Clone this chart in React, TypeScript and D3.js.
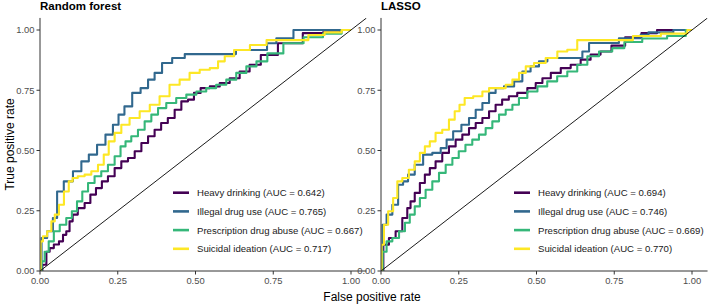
import React from "react";
import * as d3 from "d3";

type Pt = [number, number];

const seriesNames = ["Heavy drinking", "Illegal drug use", "Prescription drug abuse", "Suicidal ideation"];
const seriesColors = ["#440154", "#31688E", "#35B779", "#FDE725"];
const panelTitles = ["Random forest", "LASSO"];
const rfAUC = ["0.642", "0.765", "0.667", "0.717"];
const lassoAUC = ["0.694", "0.746", "0.669", "0.770"];
const tickValues = [0, 0.25, 0.5, 0.75, 1];

const rfHeavy: Pt[] = [
  [0, 0], [0.015, 0.026], [0.026, 0.08], [0.036, 0.095], [0.053, 0.11], [0.069, 0.123], [0.079, 0.15],
  [0.09, 0.165], [0.1, 0.206], [0.11, 0.234], [0.133, 0.261], [0.154, 0.282], [0.17, 0.317], [0.19, 0.344],
  [0.208, 0.372], [0.229, 0.393], [0.251, 0.427], [0.272, 0.455], [0.294, 0.469], [0.315, 0.497],
  [0.337, 0.531], [0.358, 0.559], [0.379, 0.586], [0.4, 0.614], [0.422, 0.635], [0.444, 0.669],
  [0.465, 0.704], [0.487, 0.711], [0.503, 0.739], [0.53, 0.759], [0.562, 0.766], [0.594, 0.78],
  [0.626, 0.8], [0.658, 0.828], [0.69, 0.856], [0.73, 0.896], [0.8, 0.945], [0.89, 0.987], [0.93, 0.99], [1, 1],
];
const rfIllegal: Pt[] = [
  [0, 0], [0.01, 0.137], [0.036, 0.165], [0.047, 0.22], [0.063, 0.33], [0.09, 0.372], [0.122, 0.414],
  [0.144, 0.455], [0.17, 0.483], [0.197, 0.524], [0.224, 0.566], [0.245, 0.607], [0.26, 0.649],
  [0.283, 0.683], [0.31, 0.739], [0.337, 0.759], [0.358, 0.794], [0.379, 0.822], [0.406, 0.863],
  [0.444, 0.884], [0.487, 0.9], [0.62, 0.9], [0.64, 0.917], [0.73, 0.917], [0.73, 0.945], [0.79, 0.966],
  [0.84, 1.0], [1, 1],
];
const rfPrescription: Pt[] = [
  [0, 0], [0.01, 0.04], [0.02, 0.08], [0.036, 0.123], [0.053, 0.165], [0.074, 0.192], [0.095, 0.22],
  [0.11, 0.248], [0.128, 0.289], [0.144, 0.33], [0.165, 0.365], [0.186, 0.393], [0.208, 0.414],
  [0.229, 0.441], [0.251, 0.476], [0.267, 0.517], [0.283, 0.538], [0.304, 0.559], [0.326, 0.586],
  [0.347, 0.621], [0.369, 0.649], [0.39, 0.676], [0.422, 0.697], [0.454, 0.718], [0.487, 0.732],
  [0.519, 0.745], [0.55, 0.759], [0.583, 0.773], [0.615, 0.794], [0.647, 0.822], [0.68, 0.849],
  [0.712, 0.87], [0.75, 0.903], [0.815, 0.945], [0.88, 0.97], [0.94, 0.985], [1, 1],
];
const rfSuicidal: Pt[] = [
  [0, 0], [0.004, 0.123], [0.015, 0.144], [0.031, 0.165], [0.042, 0.206], [0.053, 0.234], [0.069, 0.275],
  [0.085, 0.33], [0.1, 0.372], [0.11, 0.386], [0.133, 0.393], [0.154, 0.4], [0.176, 0.414], [0.197, 0.441],
  [0.213, 0.483], [0.229, 0.538], [0.251, 0.573], [0.272, 0.607], [0.304, 0.635], [0.337, 0.663],
  [0.369, 0.69], [0.4, 0.725], [0.433, 0.773], [0.465, 0.794], [0.497, 0.822], [0.53, 0.835],
  [0.562, 0.842], [0.583, 0.87], [0.605, 0.891], [0.643, 0.917], [0.707, 0.938], [0.75, 0.958],
  [0.836, 0.958], [0.89, 0.979], [0.94, 0.99], [1, 1],
];

const lassoHeavy: Pt[] = [
  [0, 0], [0.015, 0.109], [0.036, 0.137], [0.058, 0.165], [0.079, 0.22], [0.09, 0.261], [0.1, 0.289],
  [0.117, 0.324], [0.133, 0.365], [0.149, 0.4], [0.165, 0.427], [0.186, 0.455], [0.208, 0.49],
  [0.229, 0.517], [0.251, 0.545], [0.272, 0.566], [0.294, 0.593], [0.315, 0.614], [0.337, 0.635],
  [0.358, 0.663], [0.379, 0.69], [0.4, 0.711], [0.422, 0.725], [0.454, 0.739], [0.487, 0.759],
  [0.508, 0.78], [0.53, 0.8], [0.562, 0.822], [0.594, 0.842], [0.626, 0.856], [0.658, 0.877],
  [0.69, 0.898], [0.722, 0.911], [0.76, 0.935], [0.81, 0.97], [0.865, 0.987], [0.91, 1.0], [1, 1],
];
const lassoIllegal: Pt[] = [
  [0, 0], [0.01, 0.192], [0.026, 0.234], [0.047, 0.275], [0.063, 0.358], [0.079, 0.372], [0.095, 0.4],
  [0.122, 0.441], [0.149, 0.483], [0.181, 0.49], [0.203, 0.51], [0.219, 0.545], [0.245, 0.58],
  [0.272, 0.607], [0.294, 0.635], [0.315, 0.669], [0.337, 0.697], [0.358, 0.739], [0.379, 0.759],
  [0.412, 0.766], [0.444, 0.787], [0.465, 0.828], [0.497, 0.849], [0.519, 0.87], [0.551, 0.884],
  [0.637, 0.884], [0.658, 0.911], [0.68, 0.946], [0.76, 0.946], [0.77, 0.966], [0.83, 0.966],
  [0.84, 0.98], [0.88, 0.99], [1, 1],
];
const lassoPrescription: Pt[] = [
  [0, 0], [0.01, 0.08], [0.026, 0.123], [0.047, 0.137], [0.069, 0.165], [0.085, 0.2], [0.1, 0.234],
  [0.117, 0.268], [0.133, 0.303], [0.154, 0.337], [0.176, 0.372], [0.197, 0.407], [0.219, 0.441],
  [0.24, 0.469], [0.26, 0.497], [0.283, 0.524], [0.304, 0.545], [0.326, 0.566], [0.347, 0.593],
  [0.369, 0.621], [0.39, 0.649], [0.412, 0.669], [0.433, 0.69], [0.454, 0.718], [0.487, 0.745],
  [0.519, 0.766], [0.55, 0.787], [0.583, 0.808], [0.615, 0.828], [0.647, 0.856], [0.68, 0.891],
  [0.722, 0.911], [0.765, 0.925], [0.8, 0.95], [0.88, 0.965], [0.96, 0.975], [1, 1],
];
const lassoSuicidal: Pt[] = [
  [0, 0], [0.004, 0.109], [0.015, 0.192], [0.031, 0.248], [0.047, 0.303], [0.058, 0.372], [0.079, 0.386],
  [0.1, 0.42], [0.117, 0.455], [0.133, 0.49], [0.149, 0.517], [0.165, 0.538], [0.186, 0.573],
  [0.208, 0.586], [0.229, 0.628], [0.245, 0.663], [0.26, 0.69], [0.278, 0.718], [0.315, 0.725],
  [0.337, 0.745], [0.358, 0.759], [0.39, 0.759], [0.412, 0.773], [0.433, 0.794], [0.455, 0.822],
  [0.476, 0.849], [0.508, 0.863], [0.551, 0.884], [0.583, 0.911], [0.615, 0.918], [0.647, 0.958],
  [0.79, 0.958], [0.83, 0.975], [0.97, 0.985], [1, 1],
];

const rfSeries = [rfHeavy, rfIllegal, rfPrescription, rfSuicidal];
const lassoSeries = [lassoHeavy, lassoIllegal, lassoPrescription, lassoSuicidal];

const FONT = "'Liberation Sans', Arial, Helvetica, sans-serif";
const UNIT_W = 311;
const UNIT_H = 241;
const Y0 = 271;
const EXP = 1.05;

function Panel({ x0, title, series, aucs, id }: { x0: number; title: string; series: Pt[][]; aucs: string[]; id: string }) {
  const x = d3.scaleLinear().domain([0, EXP]).range([x0, x0 + UNIT_W * EXP]);
  const y = d3.scaleLinear().domain([0, EXP]).range([Y0, Y0 - UNIT_H * EXP]);
  const line = d3
    .line<Pt>()
    .x((d) => x(d[0]))
    .y((d) => y(d[1]))
    .curve(d3.curveStep);
  const fmt = d3.format(".2f");
  const [xl, xr] = x.range();
  const [yb, yt] = y.range();
  return (
    <g>
      <defs>
        <clipPath id={id}>
          <rect x={xl} y={yt} width={xr - xl} height={yb - yt} />
        </clipPath>
      </defs>
      <text x={xl} y={10} fontFamily={FONT} fontWeight="bold" fontSize={11.5} fill="#000">
        {title}
      </text>
      <g clipPath={`url(#${id})`}>
        {series.map((s, i) => (
          <path key={i} d={line(s) || ""} fill="none" stroke={seriesColors[i]} strokeWidth={2.1} strokeLinejoin="round" />
        ))}
        <line x1={x(0)} y1={y(0)} x2={x(EXP)} y2={y(EXP)} stroke="#000" strokeWidth={0.9} />
      </g>
      <line x1={xl} y1={yb} x2={xr} y2={yb} stroke="#333" strokeWidth={1} />
      <line x1={xl} y1={yb} x2={xl} y2={yt} stroke="#333" strokeWidth={1} />
      {tickValues.map((t) => (
        <g key={"x" + t}>
          <line x1={x(t)} x2={x(t)} y1={yb} y2={yb + 3.5} stroke="#333" strokeWidth={1} />
          <text x={x(t)} y={yb + 12.5} textAnchor="middle" fontFamily={FONT} fontSize={9.4} fill="#4D4D4D">
            {fmt(t)}
          </text>
        </g>
      ))}
      {tickValues.map((t) => (
        <g key={"y" + t}>
          <line x1={xl - 3.5} x2={xl} y1={y(t)} y2={y(t)} stroke="#333" strokeWidth={1} />
          <text x={xl - 5.5} y={y(t) + 3.3} textAnchor="end" fontFamily={FONT} fontSize={9.4} fill="#4D4D4D">
            {fmt(t)}
          </text>
        </g>
      ))}
      {seriesNames.map((n, i) => {
        const ly = 192.7 + i * 18.7;
        return (
          <g key={"l" + i}>
            <line x1={xl + 133} x2={xl + 149} y1={ly} y2={ly} stroke={seriesColors[i]} strokeWidth={2.6} />
            <text x={xl + 157} y={ly + 3.4} fontFamily={FONT} fontSize={9.6} fill="#1a1a1a">
              {`${n} (AUC = ${aucs[i]})`}
            </text>
          </g>
        );
      })}
    </g>
  );
}

export default function App() {
  return (
    <svg
      width={708}
      height={306}
      style={{ position: "absolute", left: 0, top: 0, background: "#fff" }}
    >
      <rect x={0} y={0} width={708} height={306} fill="#fff" />
      <Panel x0={40} title={panelTitles[0]} series={rfSeries} aucs={rfAUC} id="clipRF" />
      <Panel x0={381} title={panelTitles[1]} series={lassoSeries} aucs={lassoAUC} id="clipLASSO" />
      <text x={372} y={301} textAnchor="middle" fontFamily={FONT} fontSize={12} fill="#000">
        False positive rate
      </text>
      <text
        transform={`translate(13.5, ${(Y0 + (Y0 - UNIT_H * EXP)) / 2}) rotate(-90)`}
        textAnchor="middle"
        fontFamily={FONT}
        fontSize={12}
        fill="#000"
      >
        True positive rate
      </text>
    </svg>
  );
}
